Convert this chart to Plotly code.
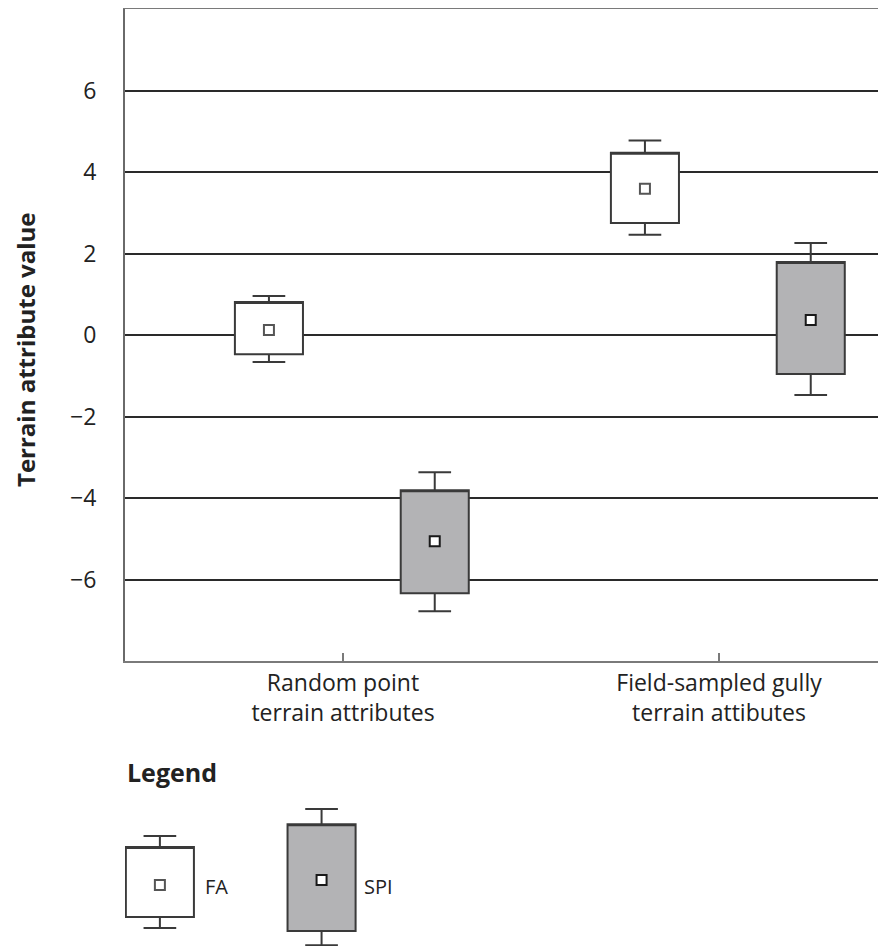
import plotly.graph_objects as go

# ---- data ----
categories = ["Random point<br>terrain attributes", "Field-sampled gully<br>terrain attibutes"]
ytick_vals = [-6, -4, -2, 0, 2, 4, 6]

fa_q1 = [-0.47, 2.75]
fa_q3 = [0.81, 4.47]
fa_lo = [-0.66, 2.46]
fa_hi = [0.96, 4.77]
fa_mean = [0.12, 3.59]

spi_q1 = [-6.34, -0.96]
spi_q3 = [-3.81, 1.79]
spi_lo = [-6.78, -1.47]
spi_hi = [-3.37, 2.26]
spi_mean = [-5.06, 0.37]

# legend icons (illustrative values, own hidden axis)
leg_fa = dict(q1=0.51, q3=2.23, lo=0.24, hi=2.50, mean=1.30)
leg_spi = dict(q1=0.17, q3=2.79, lo=-0.18, hi=3.16, mean=1.42)

# ---- styling / layout constants (screen coords, page has 8px body margin) ----
OFF = 8
SW, SH = 886, 946
W, H = SW - OFF, SH - OFF
ML, MT = 125 - OFF, 9 - OFF
plot_h = H - MT
PL, PB = 125, 661          # screen x of plot left, screen y of plot bottom
cat_pos = [1, 2]
off_fa, off_spi = -0.197, 0.244
bw = 0.181
FONT = "Open Sans"
TXT = "#222222"
OUT = "#3a3a3a"
GREY = "#b3b3b5"

fig = go.Figure()

def add_box(xpos, q1, q3, lo, hi, fill, yaxis="y"):
    fig.add_trace(go.Box(
        x=xpos, q1=q1, median=q3, q3=q3, lowerfence=lo, upperfence=hi,
        width=bw, whiskerwidth=0.48, fillcolor=fill,
        line=dict(color=OUT, width=2), boxpoints=False,
        showlegend=False, hoverinfo="skip", yaxis=yaxis))

def add_mean(xpos, m, edge, yaxis="y"):
    fig.add_trace(go.Scatter(
        x=xpos, y=m, mode="markers", yaxis=yaxis, showlegend=False, hoverinfo="skip",
        marker=dict(symbol="square", size=10, color="white",
                    line=dict(color=edge, width=2))))

fa_x = [c + off_fa for c in cat_pos]
spi_x = [c + off_spi for c in cat_pos]
for i in range(2):
    add_box([fa_x[i]], [fa_q1[i]], [fa_q3[i]], [fa_lo[i]], [fa_hi[i]], "white")
    add_box([spi_x[i]], [spi_q1[i]], [spi_q3[i]], [spi_lo[i]], [spi_hi[i]], GREY)
add_mean(fa_x, fa_mean, "#555555")
add_mean(spi_x, spi_mean, "#1a1a1a")

# legend icons
leg_fa_x, leg_spi_x = 0.513, 0.943
add_box([leg_fa_x], [leg_fa["q1"]], [leg_fa["q3"]], [leg_fa["lo"]], [leg_fa["hi"]], "white", "y2")
add_box([leg_spi_x], [leg_spi["q1"]], [leg_spi["q3"]], [leg_spi["lo"]], [leg_spi["hi"]], GREY, "y2")
add_mean([leg_fa_x], [leg_fa["mean"]], "#555555", "y2")
add_mean([leg_spi_x], [leg_spi["mean"]], "#1a1a1a", "y2")

px_per_x = 376.0
x0 = 1 - (343 - PL) / px_per_x
x1 = x0 + (SW - PL) / px_per_x
main_dom0 = (SH - PB) / plot_h
px_per_y = (PB - 9) / 16.0
leg_dom1 = 0.2
leg_span = leg_dom1 * plot_h / px_per_y

def py(screen_y):
    return (SH - screen_y) / plot_h

def pxp(screen_x):
    return (screen_x - PL) / (SW - PL)

fig.update_layout(
    width=W, height=H,
    margin=dict(l=ML, r=0, t=MT, b=0, pad=0),
    paper_bgcolor="white", plot_bgcolor="white",
    font=dict(family=FONT, color=TXT),
    showlegend=False,
    xaxis=dict(range=[x0, x1], tickvals=cat_pos, ticktext=categories,
               showgrid=False, zeroline=False, showline=True, mirror=True,
               linecolor="#7a7a7a", linewidth=2,
               ticks="inside", ticklen=8, tickwidth=2, tickcolor="#7a7a7a",
               tickfont=dict(size=23, family=FONT, color=TXT),
               anchor="y"),
    yaxis=dict(domain=[main_dom0, 1], range=[-8, 8], tickvals=ytick_vals,
               showgrid=True, gridcolor="#2a2a2a", gridwidth=2,
               zeroline=False, showline=True, linecolor="#6a6a6a", linewidth=2,
               ticks="", ticklabelstandoff=22,
               tickfont=dict(size=23, family=FONT, color=TXT)),
    yaxis2=dict(domain=[0, leg_dom1], range=[-0.2, -0.2 + leg_span],
                visible=False, anchor="x"),
    annotations=[
        dict(text="<b>Terrain attribute value</b>", textangle=-90,
             xref="paper", yref="paper", x=pxp(25), y=py(350),
             xanchor="center", yanchor="middle", showarrow=False,
             font=dict(size=24, family=FONT, color=TXT)),
        dict(text="<b>Legend</b>", xref="paper", yref="paper",
             x=0, y=py(772), xanchor="left", yanchor="middle",
             showarrow=False, font=dict(size=25, family=FONT, color=TXT)),
        dict(text="FA", xref="x", yref="y2", x=0.6276, y=1.27,
             xanchor="left", yanchor="middle", showarrow=False,
             font=dict(size=20, family=FONT, color=TXT)),
        dict(text="SPI", xref="x", yref="y2", x=1.0505, y=1.27,
             xanchor="left", yanchor="middle", showarrow=False,
             font=dict(size=20, family=FONT, color=TXT)),
    ],
)

fig.write_html("out.html")
